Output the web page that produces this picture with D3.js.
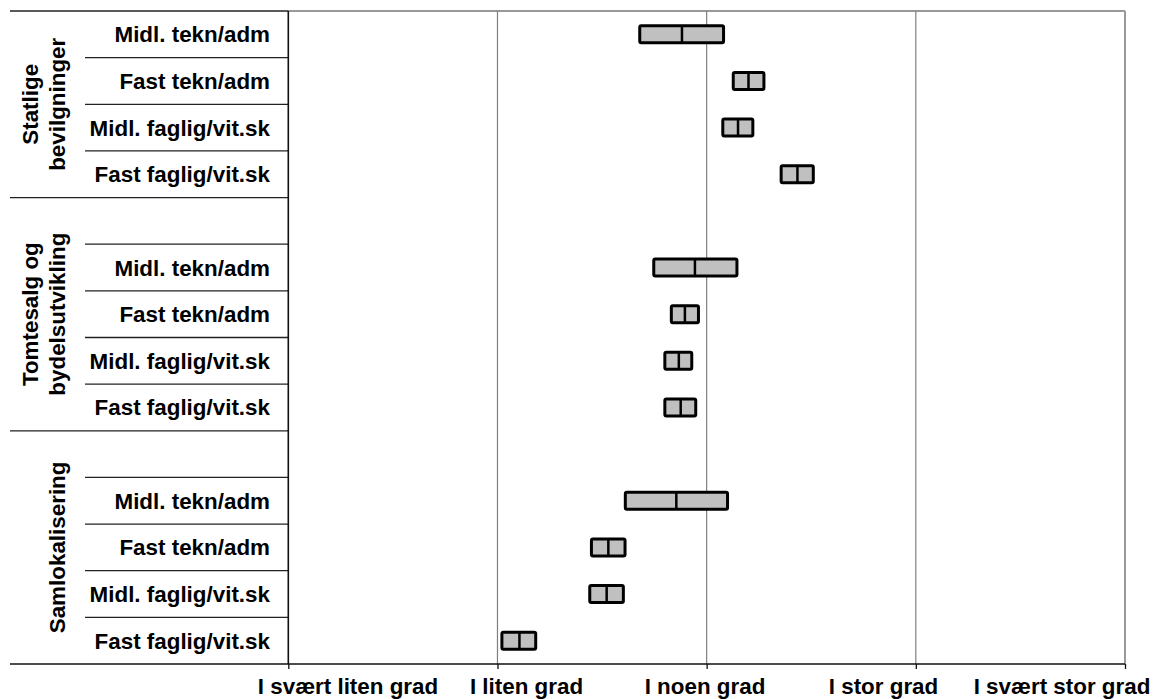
<!DOCTYPE html>
<html>
<head>
<meta charset="utf-8">
<script src="https://cdn.jsdelivr.net/npm/d3@7"></script>
<style>
  html, body { margin: 0; padding: 0; background: #fff; }
  svg { display: block; font-family: Arial, "Liberation Sans", sans-serif; }
</style>
</head>
<body>
<svg id="chart" width="1156" height="699"></svg>
<script>
// ---- data ----
const groupLabels = [["Statlige", "bevilgninger"], ["Tomtesalg og", "bydelsutvikling"], ["Samlokalisering"]];
const groupRows = [
  ["Midl. tekn/adm", "Fast tekn/adm", "Midl. faglig/vit.sk", "Fast faglig/vit.sk"],
  ["", "Midl. tekn/adm", "Fast tekn/adm", "Midl. faglig/vit.sk", "Fast faglig/vit.sk"],
  ["", "Midl. tekn/adm", "Fast tekn/adm", "Midl. faglig/vit.sk", "Fast faglig/vit.sk"]
];
const tickLabels = ["I svært liten grad", "I liten grad", "I noen grad", "I stor grad", "I svært stor grad"];
// values per non-blank row, in order (scale 1..5)
const lowValues  = [2.673, 3.120, 3.070, 3.349,  2.740, 2.824, 2.793, 2.793,  2.604, 2.442, 2.434, 2.014];
const meanValues = [2.882, 3.200, 3.150, 3.434,  2.944, 2.896, 2.867, 2.876,  2.855, 2.530, 2.522, 2.105];
const highValues = [3.088, 3.281, 3.228, 3.517,  3.152, 2.968, 2.936, 2.955,  3.107, 2.617, 2.609, 2.190];

(function () {
// ---- layout ----
const svg = d3.select("#chart");
const pL = 288.3, pR = 1125, pT = 11, pB = 664;
const fs = 22.4;

// flatten rows
const rows = [];
let vi = 0;
groupRows.forEach((g, gi) => {
  g.forEach((label, ri) => {
    const r = { id: rows.length, group: gi, label, first: ri === 0, last: ri === g.length - 1 };
    if (label !== "") { r.low = lowValues[vi]; r.mean = meanValues[vi]; r.high = highValues[vi]; vi++; }
    rows.push(r);
  });
});

const x = d3.scaleLinear().domain([1, 5]).range([pL, pR]);
const y = d3.scaleBand().domain(rows.map(d => d.id)).range([pT, pB]).padding(0);
const labelX = d3.scalePoint().domain(tickLabels).range([348, 1062]);

// plot border (gray top and right)
svg.append("line").attr("x1", pL).attr("x2", pR).attr("y1", pT).attr("y2", pT)
  .attr("stroke", "#999").attr("stroke-width", 2);
svg.append("line").attr("x1", pR).attr("x2", pR).attr("y1", pT).attr("y2", pB)
  .attr("stroke", "#999").attr("stroke-width", 2);

// gridlines
svg.append("g").selectAll("line").data([2, 3, 4]).join("line")
  .attr("x1", d => x(d)).attr("x2", d => x(d))
  .attr("y1", pT).attr("y2", pB)
  .attr("stroke", "#7f7f7f").attr("stroke-width", 1.2);

// category separators
const sep = svg.append("g");
sep.append("line").attr("x1", 10).attr("x2", pL).attr("y1", pT).attr("y2", pT)
  .attr("stroke", "#222").attr("stroke-width", 1.5);
rows.forEach(r => {
  if (r.id === rows.length - 1) return;
  const yy = y(r.id) + y.bandwidth();
  sep.append("line").attr("x1", r.last ? 10 : 85).attr("x2", pL)
    .attr("y1", yy).attr("y2", yy).attr("stroke", "#222").attr("stroke-width", 1.3);
});

// row labels
svg.append("g").selectAll("text").data(rows.filter(r => r.label !== "")).join("text")
  .attr("x", 270)
  .attr("y", d => y(d.id) + y.bandwidth() / 2 + fs * 0.358)
  .attr("text-anchor", "end")
  .attr("font-size", fs).attr("font-weight", "bold").attr("fill", "#000")
  .text(d => d.label);

// group labels (rotated)
groupLabels.forEach((lines, gi) => {
  const gr = rows.filter(r => r.group === gi);
  const cy = (y(gr[0].id) + y(gr[gr.length - 1].id) + y.bandwidth()) / 2;
  const t = svg.append("text")
    .attr("transform", `translate(0,${cy}) rotate(-90)`)
    .attr("text-anchor", "middle")
    .attr("font-size", fs).attr("font-weight", "bold").attr("fill", "#000");
  lines.forEach((ln, li) => {
    t.append("tspan").attr("x", 0).attr("y", 65 - (lines.length - 1 - li) * 27).text(ln);
  });
});

// left axis line
svg.append("line").attr("x1", pL).attr("x2", pL).attr("y1", pT).attr("y2", pB)
  .attr("stroke", "#111").attr("stroke-width", 1.6);

// bottom axis
svg.append("line").attr("x1", 10).attr("x2", pR).attr("y1", pB).attr("y2", pB)
  .attr("stroke", "#111").attr("stroke-width", 1.6);
const axis = svg.append("g").attr("transform", `translate(0,${pB})`)
  .call(d3.axisBottom(x).tickValues([1, 2, 3, 4, 5]).tickSize(5).tickSizeOuter(0).tickFormat(""));
axis.select(".domain").remove();
axis.selectAll(".tick line").attr("stroke", "#111").attr("stroke-width", 1.3);

svg.append("g").selectAll("text").data(tickLabels).join("text")
  .attr("x", d => labelX(d)).attr("y", 694)
  .attr("text-anchor", "middle")
  .attr("font-size", fs).attr("font-weight", "bold").attr("fill", "#000")
  .text(d => d);

// bars
const sw = 3, bh = 20;
const bars = svg.append("g").selectAll("g").data(rows.filter(r => r.label !== "")).join("g");
bars.append("rect")
  .attr("x", d => x(d.low) + sw / 2)
  .attr("y", d => y(d.id) + y.bandwidth() / 2 - bh / 2 + sw / 2)
  .attr("width", d => x(d.high) - x(d.low) - sw)
  .attr("height", bh - sw)
  .attr("rx", 1.5)
  .attr("fill", "#c0c0c0").attr("stroke", "#000").attr("stroke-width", sw);
bars.append("line")
  .attr("x1", d => x(d.mean)).attr("x2", d => x(d.mean))
  .attr("y1", d => y(d.id) + y.bandwidth() / 2 - bh / 2 + sw / 2)
  .attr("y2", d => y(d.id) + y.bandwidth() / 2 + bh / 2 - sw / 2)
  .attr("stroke", "#000").attr("stroke-width", 2.5);
})();
</script>
</body>
</html>
